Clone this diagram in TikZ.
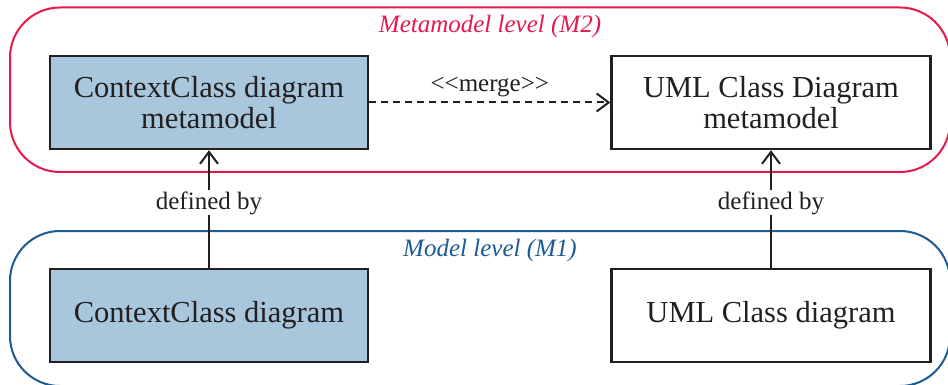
\documentclass[tikz,border=0pt]{standalone}
\usepackage{fontspec}
\setmainfont{Liberation Serif}
\usetikzlibrary{arrows.meta}

\definecolor{lvlred}{HTML}{E5194B}
\definecolor{lvlblue}{HTML}{1C5A94}
\definecolor{boxfill}{HTML}{A8C6DC}
\definecolor{ink}{HTML}{231F20}

\tikzset{
  levelframe/.style={draw, line width=2pt, rounded corners=50pt,
    inner sep=0pt, minimum width=940pt},
  levellabel/.style={font=\fontsize{25}{27}\selectfont\itshape, anchor=base, inner sep=0pt},
  classbox/.style={draw=ink, line width=2.4pt, minimum width=318pt, minimum height=93pt,
    inner sep=0pt, align=center, text=ink, font=\fontsize{30.5}{31}\selectfont},
  ccbox/.style={classbox, fill=boxfill},
  edgelabel/.style={text=ink, font=\fontsize{25}{27}\selectfont, inner sep=1pt},
  defarrow/.style={draw=ink, line width=2pt, -{Straight Barb[length=12pt,width=18pt]}},
  mergearrow/.style={defarrow, dash pattern=on 7pt off 5pt},
}

\begin{document}
\begin{tikzpicture}[x=1pt, y=-1pt]
\useasboundingbox (0,0) rectangle (948,385);

% level frames
\node[levelframe, draw=lvlred, minimum height=164.5pt] (m2frame) at (480,89.75) {};
\node[levelframe, draw=lvlblue, minimum height=155pt] (m1frame) at (480,308.5) {};
\node[levellabel, text=lvlred] (m2label) at (490,33) {Metamodel level (M2)};
\node[levellabel, text=lvlblue] (m1label) at (490,256.7) {Model level (M1)};

% classes
\node[ccbox] (ccmeta) at (209,102.5) {ContextClass diagram\\metamodel};
\node[classbox, minimum width=319pt] (umlmeta) at (771,102.5) {UML Class Diagram\\metamodel};
\node[ccbox] (ccdiag) at (209,315.5) {ContextClass diagram};
\node[classbox, minimum width=319pt] (umldiag) at (771,315.5) {UML Class diagram};

% relations
\draw[mergearrow] (ccmeta.east) -- node[edgelabel, anchor=base, yshift=10.5pt]
  {<\kern0pt<merge>\kern0pt>} (umlmeta.west);
\draw[defarrow] (ccdiag.north) -- node[edgelabel, fill=white, anchor=base] {defined by} (ccmeta.south);
\draw[defarrow] (umldiag.north) -- node[edgelabel, fill=white, anchor=base] {defined by} (umlmeta.south);
\end{tikzpicture}
\end{document}
